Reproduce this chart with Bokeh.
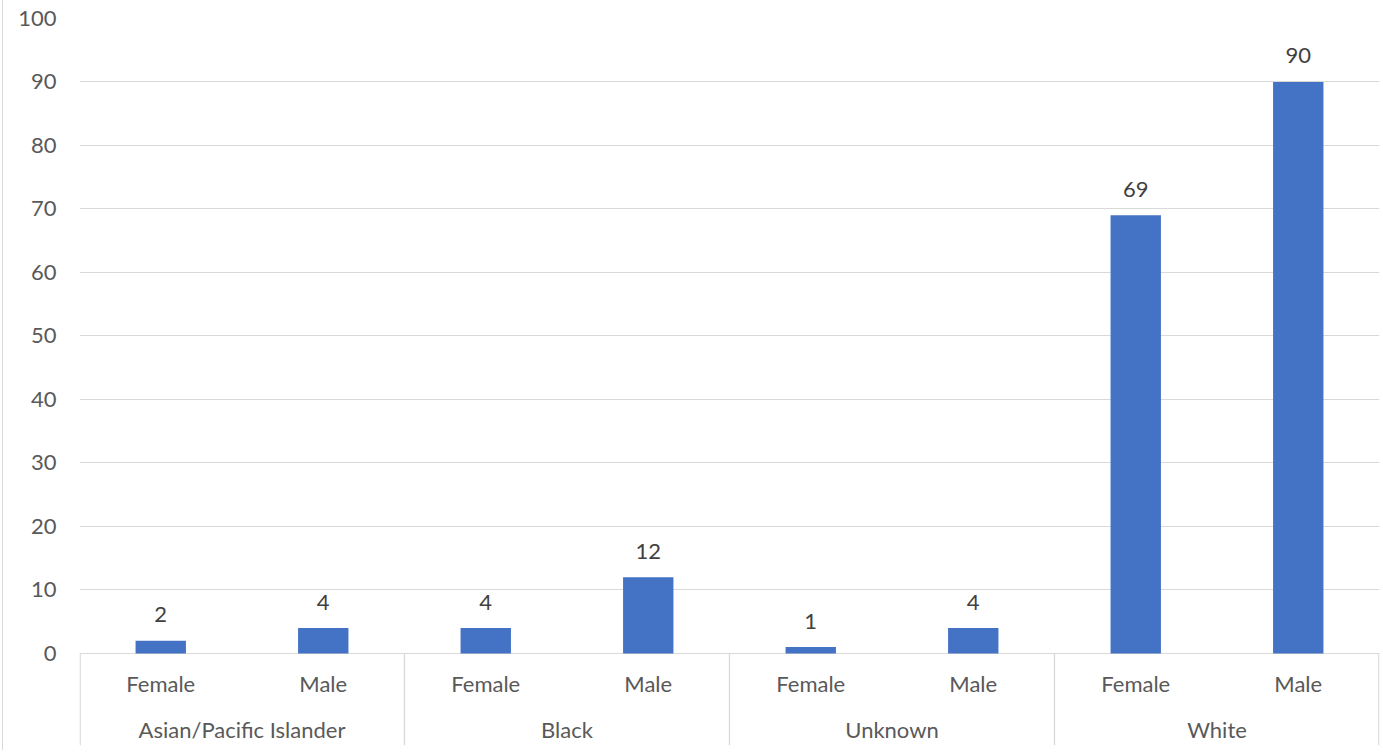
from bokeh.plotting import figure
from bokeh.models import ColumnDataSource, FixedTicker, Range1d
from bokeh.core.properties import value
from bokeh.embed import file_html
from bokeh.resources import INLINE

groups = ["Asian/Pacific Islander", "Black", "Unknown", "White"]
genders = ["Female", "Male"]
counts = [2, 4, 4, 12, 1, 4, 69, 90]
y_ticks = [0, 10, 20, 30, 40, 50, 60, 70, 80, 90, 100]

FONT = "Lato"
FS = "22px"
n_sub = len(genders)
n = len(groups) * n_sub

xs = [i + 0.5 for i in range(n)]
sub_labels = [genders[i % n_sub] for i in range(n)]
src = ColumnDataSource(dict(x=xs, top=counts, lab=[str(c) for c in counts], sub=sub_labels))

y_low = -14.5
p = figure(width=1378, height=750, output_backend="svg", toolbar_location=None,
           x_range=Range1d(0, n), y_range=Range1d(y_low, 100),
           x_axis_location=None, min_border_left=76, min_border_right=2,
           min_border_top=18, min_border_bottom=5)
p.styles = {"border-left": "1px solid #D9D9D9", "margin-left": "2px"}
p.outline_line_color = None
p.background_fill_color = "white"
p.border_fill_color = "white"
p.xgrid.visible = False
p.ygrid.ticker = FixedTicker(ticks=y_ticks)
p.ygrid.grid_line_color = "#D9D9D9"
p.ygrid.grid_line_width = 1

ya = p.yaxis[0]
ya.ticker = FixedTicker(ticks=y_ticks)
ya.axis_line_color = None
ya.major_tick_line_color = None
ya.minor_tick_line_color = None
ya.major_tick_in = 0
ya.major_tick_out = 0
ya.major_label_standoff = 23
ya.major_label_text_font = FONT
ya.major_label_text_font_size = FS
ya.major_label_text_color = "#595959"

p.vbar(x="x", top="top", bottom=0, width=0.31, source=src,
       fill_color="#4472C4", line_color=None)

p.text(x="x", y="top", text="lab", source=src, y_offset=-26,
       text_align="center", text_baseline="middle",
       text_font=value(FONT), text_font_size=FS, text_color="#404040")

# sub category labels
p.text(x="x", y=-4.72, text="sub", source=src,
       text_align="center", text_baseline="middle",
       text_font=value(FONT), text_font_size=FS, text_color="#595959")

# group labels
gx = [g * n_sub + n_sub / 2 for g in range(len(groups))]
p.text(x=gx, y=[-11.97] * len(groups), text=groups,
       text_align="center", text_baseline="middle",
       text_font=value(FONT), text_font_size=FS, text_color="#595959")

# separators
sx = [g * n_sub for g in range(len(groups) + 1)]
sx[0] += 0.004
sx[-1] -= 0.004
p.segment(x0=sx, x1=sx, y0=[0] * len(sx), y1=[y_low] * len(sx),
          line_color="#D9D9D9", line_width=1.3)

open("out.html", "w").write(file_html(p, INLINE))
